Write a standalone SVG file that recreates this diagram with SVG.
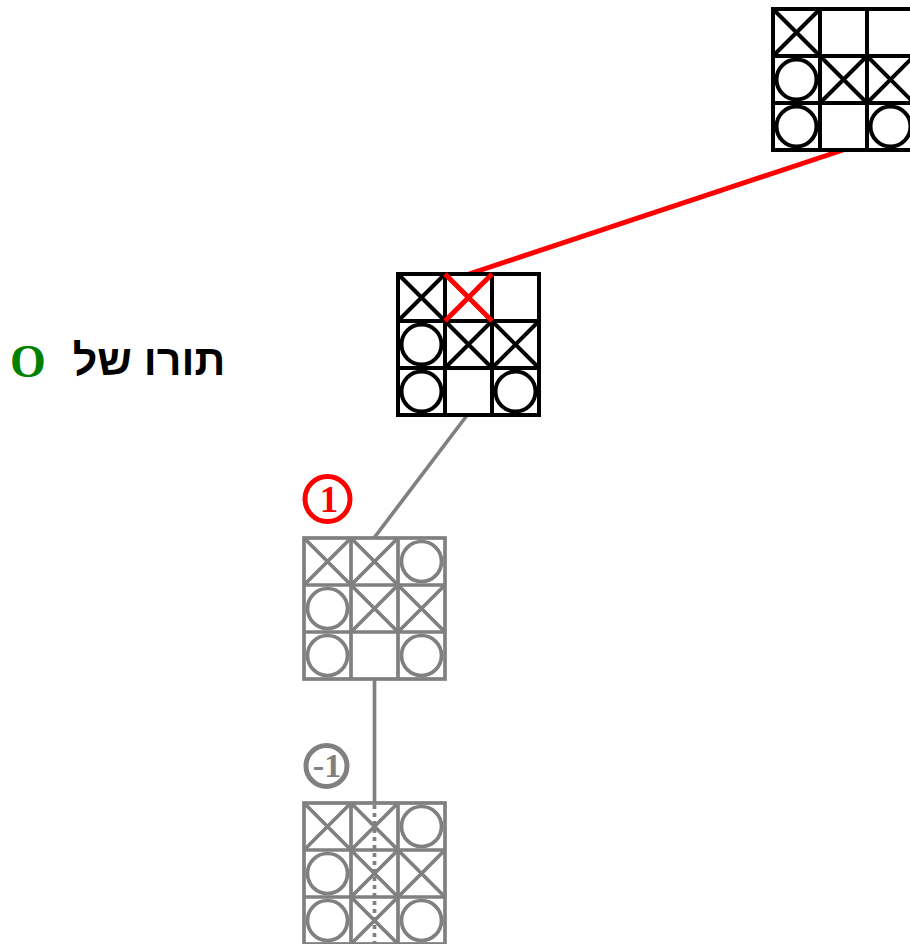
<svg xmlns="http://www.w3.org/2000/svg" xmlns:xlink="http://www.w3.org/1999/xlink" width="910" height="944" viewBox="0 0 910 944">
<style>
.blk{stroke:#000;stroke-width:4;fill:none}
.gry{stroke:#808080;stroke-width:3.7;fill:none}
.lbl{font-family:"Liberation Serif",serif;font-weight:bold;text-anchor:middle}
</style>
<defs>
<g id="grid"><rect x="0" y="0" width="141" height="141"/><path d="M47 0V141M94 0V141M0 47H141M0 94H141"/></g>
<path id="x" d="M0 0L47 47M47 0L0 47"/>
<circle id="o" cx="23.5" cy="23.5" r="20"/>
</defs>
<rect width="910" height="944" fill="#fff"/>
<g id="connectors">
<line x1="843" y1="150" x2="469" y2="274" stroke="#f00" stroke-width="5"/>
<line x1="468" y1="414" x2="374" y2="538" stroke="#808080" stroke-width="3.7"/>
<line x1="374.5" y1="679" x2="374.5" y2="803" stroke="#808080" stroke-width="3.7"/>
</g>
<g id="board-top" class="blk" transform="translate(773,9)">
<use xlink:href="#grid"/>
<use xlink:href="#x"/>
<use xlink:href="#o" y="47"/><use xlink:href="#x" x="47" y="47"/><use xlink:href="#x" x="94" y="47"/>
<use xlink:href="#o" y="94"/><use xlink:href="#o" x="94" y="94"/>
</g>
<g id="board-2" class="blk" transform="translate(398,274)">
<use xlink:href="#grid"/>
<use xlink:href="#x"/>
<use xlink:href="#o" y="47"/><use xlink:href="#x" x="47" y="47"/><use xlink:href="#x" x="94" y="47"/>
<use xlink:href="#o" y="94"/><use xlink:href="#o" x="94" y="94"/>
<use xlink:href="#x" x="47" style="stroke:#f00;stroke-width:5"/>
</g>
<g id="board-3" class="gry" transform="translate(304,538)">
<use xlink:href="#grid"/>
<use xlink:href="#x"/><use xlink:href="#x" x="47"/><use xlink:href="#o" x="94"/>
<use xlink:href="#o" y="47"/><use xlink:href="#x" x="47" y="47"/><use xlink:href="#x" x="94" y="47"/>
<use xlink:href="#o" y="94"/><use xlink:href="#o" x="94" y="94"/>
</g>
<g id="board-4" class="gry" transform="translate(304,803)">
<use xlink:href="#grid"/>
<use xlink:href="#x"/><use xlink:href="#x" x="47"/><use xlink:href="#o" x="94"/>
<use xlink:href="#o" y="47"/><use xlink:href="#x" x="47" y="47"/><use xlink:href="#x" x="94" y="47"/>
<use xlink:href="#o" y="94"/><use xlink:href="#x" x="47" y="94"/><use xlink:href="#o" x="94" y="94"/>
<line x1="70.5" y1="2" x2="70.5" y2="141" stroke-dasharray="4,4"/>
</g>
<g id="score-1">
<circle cx="327.5" cy="499" r="22.5" fill="none" stroke="#f00" stroke-width="5"/>
<text class="lbl" x="329" y="512" font-size="37" fill="#f00">1</text>
</g>
<g id="score-neg1">
<circle cx="326.5" cy="766" r="20.5" fill="none" stroke="#808080" stroke-width="5"/>
<text class="lbl" x="327" y="777" font-size="34" fill="#808080">-1</text>
</g>
<g id="turn-label">
<text x="149" y="375" font-family="'Liberation Sans','DejaVu Sans',sans-serif" font-weight="bold" font-size="43" text-anchor="middle" fill="#000">תורו של</text>
<text x="28" y="377" font-family="'Liberation Serif',serif" font-weight="bold" font-size="46" text-anchor="middle" fill="#008000">O</text>
</g>
</svg>
